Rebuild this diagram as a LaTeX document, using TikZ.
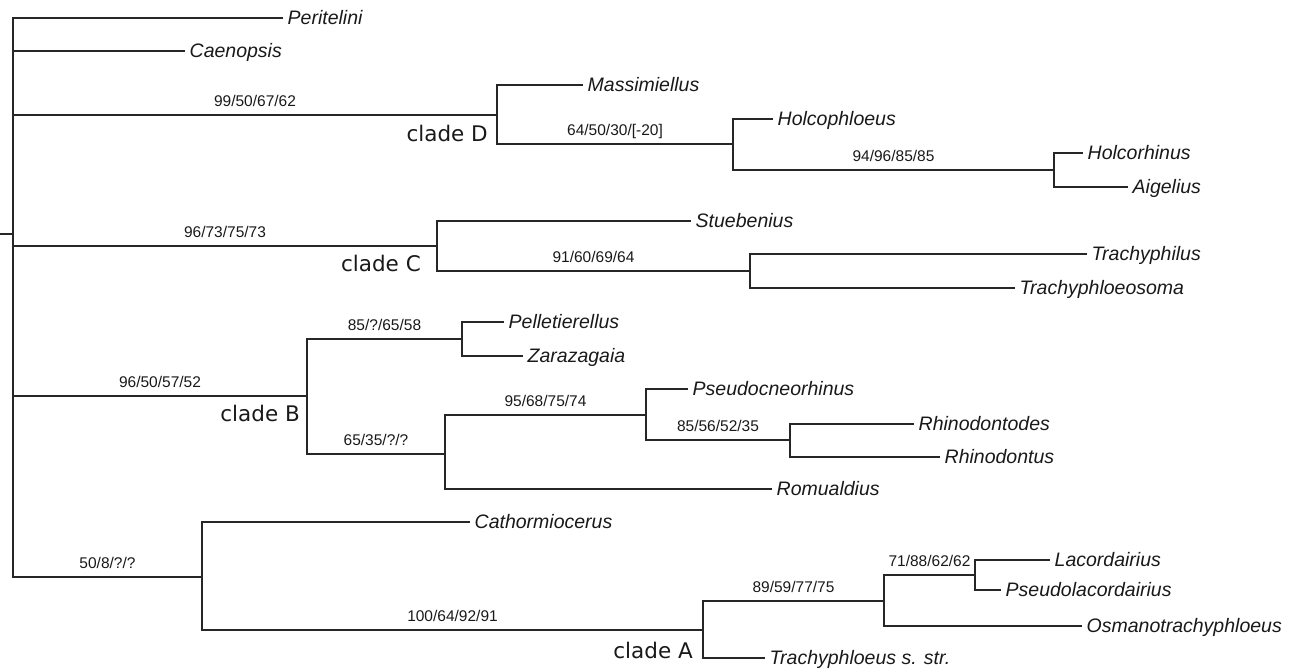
\documentclass[tikz,border=0pt]{standalone}
\usepackage{fontspec}
\setmainfont{Liberation Sans}
\newfontfamily\cladefont{DejaVu Sans}
\begin{document}
\begin{tikzpicture}[x=1pt,y=-1pt,
  branch/.style={draw=black!85,line width=1.2pt,line join=miter},
  taxon/.style={anchor=base west,inner sep=0pt,xshift=4.5pt,yshift=-6.8pt,text=black!90,
    font=\fontsize{19.5}{19.5}\selectfont\itshape},
  sup/.style={anchor=base,inner sep=0pt,yshift=8.5pt,text=black!90,
    font=\fontsize{15.5}{15.5}\selectfont},
  clade/.style={anchor=base east,inner sep=0pt,text=black!90,
    font=\cladefont\fontsize{21.5}{21.5}\selectfont}]
\useasboundingbox (0,0) rectangle (1291,669);
% internal nodes
\coordinate (stub) at (0,234);
\coordinate (r) at (13,234);
\coordinate (nD) at (497,115);
\coordinate (nH) at (733,144);
\coordinate (nHA) at (1054,170);
\coordinate (nC) at (437,246);
\coordinate (nT) at (750,271);
\coordinate (nB) at (307,396);
\coordinate (nP) at (462,339);
\coordinate (nB2) at (445,454);
\coordinate (nPs) at (646,415);
\coordinate (nR) at (790,440);
\coordinate (nA0) at (202,577);
\coordinate (nA) at (703,630);
\coordinate (nO) at (884,601);
\coordinate (nL) at (975,575);
% tips
\coordinate (tPer) at (283,18);
\coordinate (tCae) at (185,51);
\coordinate (tMas) at (583,85);
\coordinate (tHol) at (773,119);
\coordinate (tHcr) at (1083,153);
\coordinate (tAig) at (1128,187);
\coordinate (tStu) at (691,221);
\coordinate (tTrp) at (1087,254);
\coordinate (tTrs) at (1015,288);
\coordinate (tPel) at (504,322);
\coordinate (tZar) at (523,356);
\coordinate (tPsc) at (688,389);
\coordinate (tRhd) at (914,424);
\coordinate (tRht) at (940,457);
\coordinate (tRom) at (772,489);
\coordinate (tCat) at (470,522);
\coordinate (tLac) at (1050,560);
\coordinate (tPsl) at (1001,590);
\coordinate (tOsm) at (1082,626);
\coordinate (tTrc) at (765,658);
% taxon labels
\node[taxon] (Peritelini) at (tPer) {Peritelini};
\node[taxon] (Caenopsis) at (tCae) {Caenopsis};
\node[taxon] (Massimiellus) at (tMas) {Massimiellus};
\node[taxon] (Holcophloeus) at (tHol) {Holcophloeus};
\node[taxon] (Holcorhinus) at (tHcr) {Holcorhinus};
\node[taxon] (Aigelius) at (tAig) {Aigelius};
\node[taxon] (Stuebenius) at (tStu) {Stuebenius};
\node[taxon] (Trachyphilus) at (tTrp) {Trachyphilus};
\node[taxon] (Trachyphloeosoma) at (tTrs) {Trachyphloeosoma};
\node[taxon] (Pelletierellus) at (tPel) {Pelletierellus};
\node[taxon] (Zarazagaia) at (tZar) {Zarazagaia};
\node[taxon] (Pseudocneorhinus) at (tPsc) {Pseudocneorhinus};
\node[taxon] (Rhinodontodes) at (tRhd) {Rhinodontodes};
\node[taxon] (Rhinodontus) at (tRht) {Rhinodontus};
\node[taxon] (Romualdius) at (tRom) {Romualdius};
\node[taxon] (Cathormiocerus) at (tCat) {Cathormiocerus};
\node[taxon] (Lacordairius) at (tLac) {Lacordairius};
\node[taxon] (Pseudolacordairius) at (tPsl) {Pseudolacordairius};
\node[taxon] (Osmanotrachyphloeus) at (tOsm) {Osmanotrachyphloeus};
\node[taxon] (Trachyphloeus) at (tTrc) {Trachyphloeus s. str.};
% branches
\draw[branch] (stub) -- (r);
\draw[branch] (r) |- (tPer);
\draw[branch] (r) |- (tCae);
\draw[branch] (r) |- node[sup,pos=0.75]{99/50/67/62} (nD);
\draw[branch] (nD) |- (tMas);
\draw[branch] (nD) |- node[sup,pos=0.75]{64/50/30/[-20]} (nH);
\draw[branch] (nH) |- (tHol);
\draw[branch] (nH) |- node[sup,pos=0.75]{94/96/85/85} (nHA);
\draw[branch] (nHA) |- (tHcr);
\draw[branch] (nHA) |- (tAig);
\draw[branch] (r) |- node[sup,pos=0.75]{96/73/75/73} (nC);
\draw[branch] (nC) |- (tStu);
\draw[branch] (nC) |- node[sup,pos=0.75]{91/60/69/64} (nT);
\draw[branch] (nT) |- (tTrp);
\draw[branch] (nT) |- (tTrs);
\draw[branch] (r) |- node[sup,pos=0.75]{96/50/57/52} (nB);
\draw[branch] (nB) |- node[sup,pos=0.75]{85/?/65/58} (nP);
\draw[branch] (nP) |- (tPel);
\draw[branch] (nP) |- (tZar);
\draw[branch] (nB) |- node[sup,pos=0.75]{65/35/?/?} (nB2);
\draw[branch] (nB2) |- node[sup,pos=0.75]{95/68/75/74} (nPs);
\draw[branch] (nPs) |- (tPsc);
\draw[branch] (nPs) |- node[sup,pos=0.75]{85/56/52/35} (nR);
\draw[branch] (nR) |- (tRhd);
\draw[branch] (nR) |- (tRht);
\draw[branch] (nB2) |- (tRom);
\draw[branch] (r) |- node[sup,pos=0.75]{50/8/?/?} (nA0);
\draw[branch] (nA0) |- (tCat);
\draw[branch] (nA0) |- node[sup,pos=0.75]{100/64/92/91} (nA);
\draw[branch] (nA) |- node[sup,pos=0.75]{89/59/77/75} (nO);
\draw[branch] (nA) |- (tTrc);
\draw[branch] (nO) |- node[sup,pos=0.75]{71/88/62/62} (nL);
\draw[branch] (nO) |- (tOsm);
\draw[branch] (nL) |- (tLac);
\draw[branch] (nL) |- (tPsl);
% clade labels
\node[clade] (cladeD) at (488,141) {clade D};
\node[clade] (cladeC) at (421,271) {clade C};
\node[clade] (cladeB) at (300,421) {clade B};
\node[clade] (cladeA) at (693,658) {clade A};
\end{tikzpicture}
\end{document}
